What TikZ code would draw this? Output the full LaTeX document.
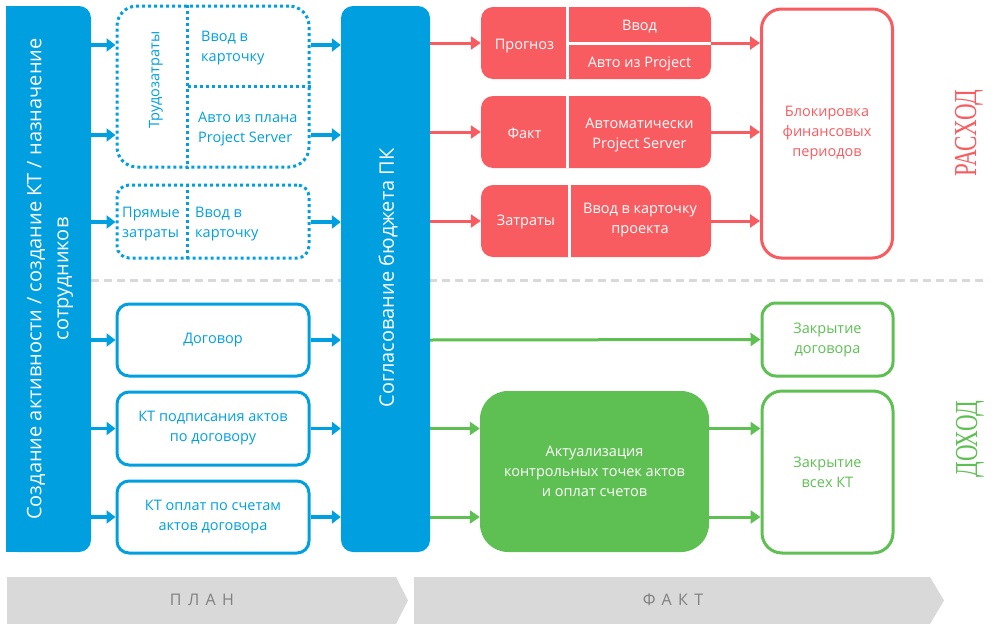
\documentclass[tikz,border=0pt]{standalone}
\usepackage{fontspec}
\setmainfont{Open Sans}
\newfontfamily\sidefont[FakeStretch=0.72]{Liberation Serif}
\usetikzlibrary{arrows.meta,positioning}

\definecolor{cblue}{RGB}{0,160,224}
\definecolor{cred}{RGB}{248,92,96}
\definecolor{cgreen}{RGB}{94,192,82}
\definecolor{cgray}{RGB}{217,217,217}
\definecolor{ctext}{RGB}{128,128,128}

\begin{document}
\begin{tikzpicture}[x=1pt,y=-1pt,
    font=\fontsize{14.5}{20}\selectfont,
    bar/.style={fill=cblue, rounded corners=12pt, minimum height=546pt, inner sep=0pt},
    barlabel/.style={rotate=90, text=white, align=center, font=\fontsize{20}{27}\selectfont},
    dotbox/.style={draw=cblue, line width=3pt, dash pattern=on 3pt off 3pt, minimum width=192pt, inner sep=0pt},
    dotline/.style={draw=cblue, line width=3pt, dash pattern=on 3pt off 3pt},
    cell/.style={text=cblue, align=left, anchor=west, inner sep=0pt},
    planbox/.style={draw=cblue, line width=3pt, rounded corners=12pt, text=cblue, align=center, minimum width=192pt, minimum height=72pt},
    factbox/.style={fill=cred, rounded corners=12pt, minimum width=230pt, minimum height=72pt},
    factcell/.style={text=white, align=center},
    divider/.style={draw=white, line width=3pt},
    endbox/.style={line width=3pt, rounded corners=#1, align=center, minimum width=131pt},
    bluearrow/.style={draw=cblue, line width=3.5pt, -{Triangle[length=9pt,width=13pt]}},
    redarrow/.style={draw=cred, line width=3pt, -{Triangle[length=10pt,width=13pt]}},
    greenarrow/.style={draw=cgreen, line width=3pt, -{Triangle[length=10pt,width=13pt]}},
    sidelabel/.style={rotate=90, font=\sidefont\fontsize{32}{32}\selectfont},
    stagelabel/.style={text=ctext, font=\fontsize{16}{16}\selectfont\addfontfeature{LetterSpace=40}}
  ]
  \useasboundingbox (0,0) rectangle (994,624);

  % separator between expenses and income
  \coordinate (sepL) at (91,280);
  \coordinate (sepR) at (988,280);
  \draw[cgray, line width=3pt, dash pattern=on 8pt off 5pt] (sepL) -- (sepR);

  % stages
  \fill[cgray] (7,577) -- (396,577) -- (408,600.5) -- (396,624) -- (7,624) -- cycle;
  \fill[cgray] (414,577) -- (930,577) -- (944,600.5) -- (930,624) -- (414,624) -- cycle;
  \node[stagelabel] (plan) at (202,600) {ПЛАН};
  \node[stagelabel] (fact) at (673,600) {ФАКТ};

  % bars
  \node[bar, minimum width=85pt] (create) at (48.5,279) {};
  \fill[cblue] (create.north west) rectangle ([xshift=20pt]create.south west);
  \node[barlabel] (createlbl) at (50,279) {Создание активности / создание КТ / назначение\\сотрудников};
  \node[bar, minimum width=89pt] (budget) at (385.5,279) {};
  \node[barlabel] (budgetlbl) at (388,278) {Согласование бюджета ПК};

  % plan: labour
  \node[dotbox, rounded corners=20pt, minimum height=161pt] (trud) at (213,86.5) {};
  \draw[dotline] ([xshift=72pt]trud.north west) -- ([xshift=72pt]trud.south west);
  \draw[dotline] ([xshift=72pt]trud.west) -- (trud.east);
  \node[cell, rotate=90, anchor=center] (trudlbl) at (156,80) {Трудозатраты};
  \node[cell] (trudin) at (201,48) {Ввод в\\карточку};
  \node[cell] (trudauto) at (198,129) {Авто из плана\\Project Server};

  % plan: direct costs
  \node[dotbox, rounded corners=12pt, minimum height=73pt] (pryam) at (213,221.5) {};
  \draw[dotline] ([xshift=72pt]pryam.north west) -- ([xshift=72pt]pryam.south west);
  \node[cell] (pryamlbl) at (122,224) {Прямые\\затраты};
  \node[cell] (pryamin) at (195,224) {Ввод в\\карточку};

  % plan: contract
  \node[planbox] (dogovor) at (213,340) {Договор};
  \node[planbox, minimum height=73pt] (ktpodp) at (213,428.5) {КТ подписания актов\\по договору};
  \node[planbox] (ktopl) at (213,517) {КТ оплат по счетам\\актов договора};

  % fact: expenses
  \node[factbox] (prognoz) at (596,43) {};
  \draw[divider] ([xshift=87pt]prognoz.north west) -- ([xshift=87pt]prognoz.south west);
  \draw[divider] ([xshift=87pt]prognoz.west) -- (prognoz.east);
  \node[factcell] (prognozlbl) at (524.5,46) {Прогноз};
  \node[factcell] (prognozin) at (639.5,26.5) {Ввод};
  \node[factcell] (prognozauto) at (639.5,63.5) {Авто из Project};

  \node[factbox] (fakt) at (596,132) {};
  \draw[divider] ([xshift=87pt]fakt.north west) -- ([xshift=87pt]fakt.south west);
  \node[factcell] (faktlbl) at (524.5,133.5) {Факт};
  \node[factcell] (faktauto) at (639.5,135.5) {Автоматически\\Project Server};

  \node[factbox] (zatr) at (596,221) {};
  \draw[divider] ([xshift=89pt]zatr.north west) -- ([xshift=89pt]zatr.south west);
  \node[factcell] (zatrlbl) at (526,221.5) {Затраты};
  \node[factcell] (zatrin) at (640,220.5) {Ввод в карточку\\проекта};

  \node[endbox=20pt, draw=cred, text=cred, minimum height=249pt] (blok) at (827,133.5) {Блокировка\\финансовых\\периодов};

  % fact: income
  \node[fill=cgreen, rounded corners=28pt, text=white, align=center, minimum width=229pt, minimum height=161pt] (aktual) at (594.5,471.5) {Актуализация\\контрольных точек актов\\и оплат счетов};
  \node[endbox=14pt, draw=cgreen, text=cgreen, minimum height=73pt] (zakrd) at (827.5,339.5) {Закрытие\\договора};
  \node[endbox=20pt, draw=cgreen, text=cgreen, minimum height=162pt] (zakrkt) at (827.5,472) {Закрытие\\всех КТ};

  \node[sidelabel, text=cred] (rashod) at (969,133) {РАСХОД};
  \node[sidelabel, text=cgreen] (dohod) at (970,439) {ДОХОД};

  % connectors
  \coordinate (row1) at (0,45);
  \coordinate (row2) at (0,135);
  \coordinate (row3) at (0,222);
  \draw[bluearrow] (create.east |- row1) -- (trud.west |- row1);
  \draw[bluearrow] (create.east |- row2) -- (trud.west |- row2);
  \draw[bluearrow] (create.east |- row3) -- (pryam.west |- row3);
  \draw[bluearrow] (trud.east |- row1) -- (budget.west |- row1);
  \draw[bluearrow] (trud.east |- row2) -- (budget.west |- row2);
  \draw[bluearrow] (pryam.east |- row3) -- (budget.west |- row3);
  \foreach \n in {dogovor,ktpodp,ktopl} {
    \draw[bluearrow] (create.east |- \n) -- (\n.west);
    \draw[bluearrow] (\n.east) -- (budget.west |- \n);
  }
  \foreach \n in {prognoz,fakt,zatr} {
    \draw[redarrow] (budget.east |- \n) -- (\n.west);
    \draw[redarrow] (\n.east) -- (blok.west |- \n);
  }
  \draw[greenarrow] (budget.east |- dogovor) -- (zakrd.west);
  \foreach \n in {ktpodp,ktopl} {
    \draw[greenarrow] (budget.east |- \n) -- (aktual.west |- \n);
    \draw[greenarrow] (aktual.east |- \n) -- (zakrkt.west |- \n);
  }
\end{tikzpicture}
\end{document}
